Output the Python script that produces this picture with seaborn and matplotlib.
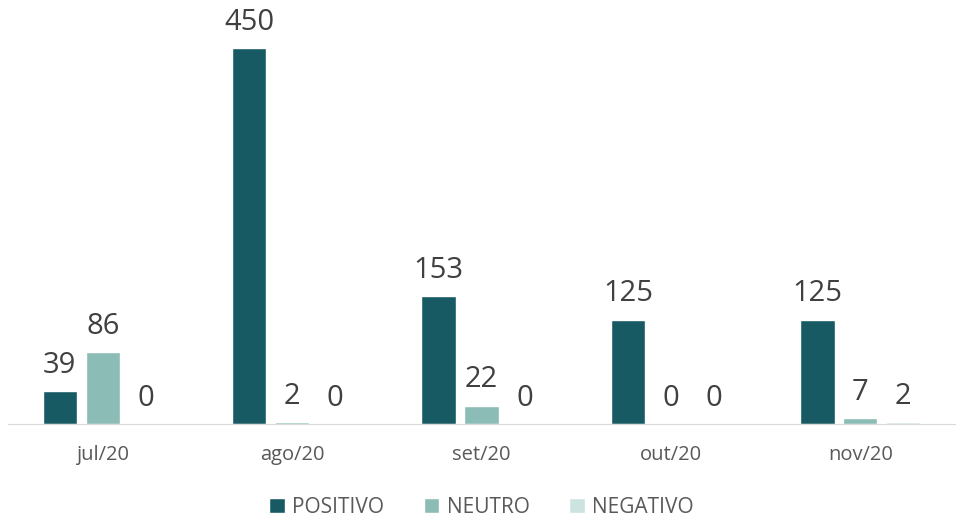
import numpy as np
import pandas as pd
import seaborn as sns
import matplotlib.pyplot as plt

meses = ['jul/20', 'ago/20', 'set/20', 'out/20', 'nov/20']
positivo = [39, 450, 153, 125, 125]
neutro = [86, 2, 22, 0, 7]
negativo = [0, 0, 0, 0, 2]
series = ['POSITIVO', 'NEUTRO', 'NEGATIVO']
cores = ['#185a63', '#8bbcb5', '#cde3e0']

df = pd.DataFrame({'mes': meses, 'POSITIVO': positivo,
                   'NEUTRO': neutro, 'NEGATIVO': negativo})
df = df.melt(id_vars='mes', value_vars=series, var_name='tipo', value_name='valor')

sns.set_style('white')
plt.rcParams['font.family'] = ['Open Sans', 'DejaVu Sans']

fig = plt.figure(figsize=(9.57, 5.2), dpi=100)
ax = fig.add_axes([8 / 957, 96 / 520, 947 / 957, 418 / 520])

sns.barplot(ax=ax, data=df, x='mes', y='valor', hue='tipo', order=meses,
            hue_order=series, palette=cores, width=0.68, gap=0.2,
            saturation=1, legend=True)

for c in ax.containers:
    ax.bar_label(c, padding=8, fontsize=21, color='#404040')

ax.set_xlim(-0.5, 4.5)
ax.set_ylim(0, 500)
ax.set_xlabel('')
ax.set_ylabel('')
ax.set_yticks([])
ax.tick_params(axis='x', labelsize=14.5, colors='#595959', length=0, pad=15)
# separator ticks between months
ax.set_xticks(np.arange(-0.5, 5, 1), minor=True)
ax.tick_params(axis='x', which='minor', length=9, color='#d9d9d9', width=1)
for s in ['top', 'right', 'left']:
    ax.spines[s].set_visible(False)
ax.spines['bottom'].set_color('#d9d9d9')

handles, labels = ax.get_legend_handles_labels()
ax.legend(handles, labels, loc='center', bbox_to_anchor=(0.5, -0.2),
          ncol=3, frameon=False, fontsize=15, handlelength=0.75, handleheight=0.75,
          handletextpad=0.35, columnspacing=1.9, labelcolor='#595959')

fig.savefig('out.png', dpi=100)
